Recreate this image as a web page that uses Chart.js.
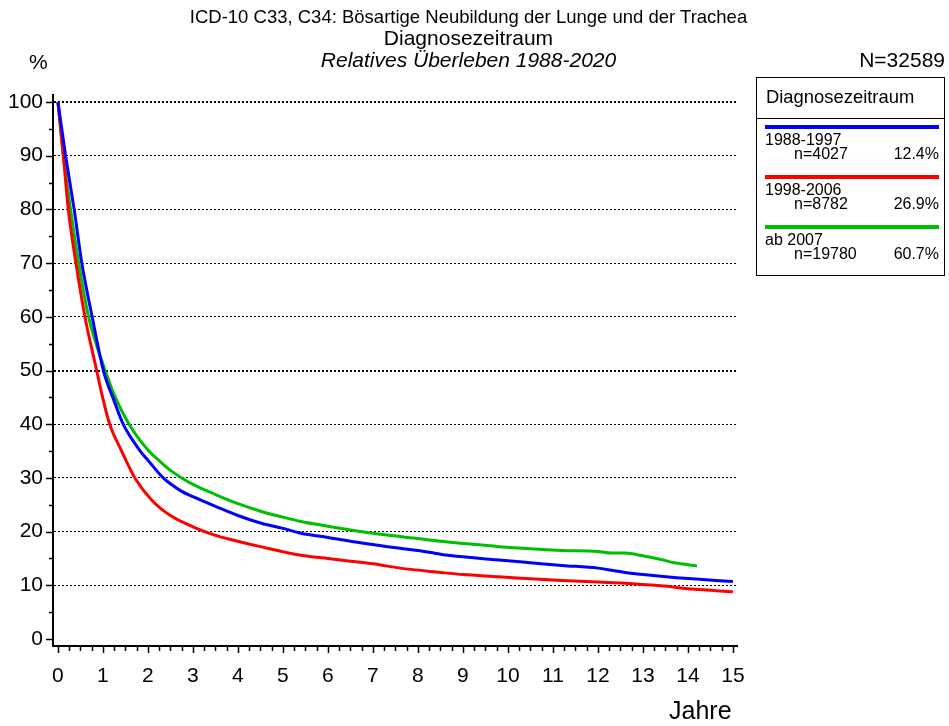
<!DOCTYPE html>
<html lang="de">
<head>
<meta charset="utf-8">
<title>Relatives Überleben 1988-2020</title>
<script src="https://cdn.jsdelivr.net/npm/chart.js@4/dist/chart.umd.min.js"></script>
<style>
  body { margin: 0; background: #fff; font-family: "Liberation Sans", Arial, sans-serif; }
  #wrap { position: relative; width: 949px; height: 726px; }
  #wrap canvas { position: absolute; left: 0; top: 0; }
  .t { position: absolute; white-space: nowrap; color: #000; }
  #legend { position: absolute; left: 756px; top: 77px; width: 187px; height: 197px; border: 1.5px solid #000; }
  #legend .head { position: absolute; left: 9px; top: 8px; font-size: 18.4px; }
  #legend .sep { position: absolute; left: 0; right: 0; top: 40px; border-top: 1px solid #000; }
  .entry { position: absolute; left: 8px; width: 174px; height: 50px; font-size: 16px; }
  .entry .bar { position: absolute; left: 0; right: 0; top: 0; height: 4px; }
  .entry .a { position: absolute; left: 0; top: 6px; }
  .entry .b { position: absolute; left: 29px; top: 20px; }
  .entry .c { position: absolute; right: 0; top: 20px; }
</style>
</head>
<body>
<div id="wrap">
  <canvas id="survChart" width="949" height="726"></canvas>
  <div class="t" style="left:0;width:937px;text-align:center;top:6px;font-size:18.5px;">ICD-10 C33, C34: Bösartige Neubildung der Lunge und der Trachea</div>
  <div class="t" style="left:0;width:937px;text-align:center;top:26px;font-size:21px;">Diagnosezeitraum</div>
  <div class="t" style="left:0;width:937px;text-align:center;top:48px;font-size:21px;font-style:italic;">Relatives Überleben 1988-2020</div>
  <div class="t" style="left:29px;top:50px;font-size:21px;">%</div>
  <div class="t" style="right:4px;top:48px;font-size:21px;">N=32589</div>
  <div class="t" style="left:669px;top:696px;font-size:25px;">Jahre</div>
  <div id="legend">
    <div class="head">Diagnosezeitraum</div>
    <div class="sep"></div>
  </div>
</div>
<script>
// Diagnosezeitraum groups
const groupLabels = ['1988-1997', '1998-2006', 'ab 2007'];
const groupN = ['n=4027', 'n=8782', 'n=19780'];
const groupShare = ['12.4%', '26.9%', '60.7%'];
const groupColors = ['#0000ff', '#ff0000', '#00bf00'];

// Relatives Überleben (%) over Jahre
const yearsA = [0, 0.17, 0.36, 0.53, 0.76, 1.01, 1.25, 1.45, 1.82, 2.0, 2.34, 2.5, 2.75, 3.0, 3.5, 4.0, 4.5, 5.0, 5.4, 6.0, 6.5, 7.0, 7.6, 8.0, 8.5, 9.0, 9.8, 10.5, 11.2, 12.0, 12.3, 12.6, 13.4, 14.1, 15.0];
const survA  = [100, 90, 80, 70, 60, 50, 44.3, 40, 35.1, 33.3, 30, 28.9, 27.5, 26.5, 24.7, 23, 21.6, 20.6, 19.7, 18.9, 18.2, 17.6, 16.9, 16.5, 15.8, 15.3, 14.7, 14.2, 13.7, 13.2, 12.8, 12.4, 11.7, 11.2, 10.7];

const yearsB = [0, 0.12, 0.23, 0.40, 0.60, 0.86, 0.97, 1.15, 1.41, 1.71, 2.08, 2.5, 3.0, 3.5, 3.9, 4.5, 5.4, 6.0, 6.5, 7.0, 7.6, 8.5, 9.0, 9.8, 10.5, 11.2, 12.0, 12.6, 13.4, 14.1, 15.0];
const survB  = [100, 90, 80, 70, 60, 50, 45.8, 40, 35.1, 30, 25.9, 23, 20.9, 19.3, 18.4, 17.2, 15.6, 15.0, 14.5, 14.0, 13.2, 12.4, 12.0, 11.6, 11.2, 10.9, 10.6, 10.4, 9.9, 9.3, 8.8];

const yearsC = [0, 0.12, 0.28, 0.46, 0.68, 1.05, 1.25, 1.58, 2.01, 2.25, 2.5, 2.75, 3.0, 3.5, 4.0, 4.5, 5.0, 5.4, 6.0, 6.5, 7.0, 7.6, 8.5, 9.0, 9.8, 10.5, 11.2, 12.0, 12.3, 12.6, 13.0, 13.4, 13.7, 14.2];
const survC  = [100, 90, 80, 70, 60, 50, 45.5, 40, 35.1, 33.2, 31.4, 30, 28.8, 26.9, 25.2, 23.8, 22.7, 21.9, 21.0, 20.3, 19.7, 19.1, 18.2, 17.8, 17.2, 16.8, 16.5, 16.3, 16.0, 16.0, 15.5, 14.8, 14.2, 13.6];

const seriesYears = [yearsA, yearsB, yearsC];
const seriesSurv = [survA, survB, survC];

// legend entries
const legendEl = document.getElementById('legend');
groupLabels.forEach((lbl, i) => {
    const e = document.createElement('div');
    e.className = 'entry';
    e.style.top = (47 + i * 50) + 'px';
    e.innerHTML = `<div class="bar" style="background:${groupColors[i]}"></div>` +
        `<div class="a">${lbl}</div><div class="b">${groupN[i]}</div><div class="c">${groupShare[i]}</div>`;
    legendEl.appendChild(e);
});

// small outward tick marks: minor + major
const tickMarks = {
    id: 'tickMarks',
    afterDraw(chart) {
        const { ctx, scales: { x, y } } = chart;
        ctx.save();
        ctx.strokeStyle = '#000';
        ctx.lineWidth = 1.5;
        ctx.beginPath();
        for (let i = 0; i <= 60; i++) {
            const px = Math.round(x.getPixelForValue(i / 4)) + 0.5;
            ctx.moveTo(px, y.bottom);
            ctx.lineTo(px, y.bottom + (i % 4 === 0 ? 7 : 5));
        }
        for (let i = 0; i <= 20; i++) {
            const py = Math.round(y.getPixelForValue(i * 5)) + 0.5;
            ctx.moveTo(x.left, py);
            ctx.lineTo(x.left - (i % 2 === 0 ? 7 : 4), py);
        }
        ctx.stroke();
        ctx.restore();
    }
};

new Chart(document.getElementById('survChart'), {
    type: 'line',
    data: {
        datasets: groupLabels.map((lbl, i) => ({
            label: lbl,
            data: seriesYears[i].map((t, j) => ({ x: t, y: seriesSurv[i][j] })),
            borderColor: groupColors[i],
            borderWidth: 3,
            pointRadius: 0,
            cubicInterpolationMode: 'monotone',
            fill: false
        }))
    },
    options: {
        responsive: false,
        animation: false,
        layout: { padding: { top: 95, right: 212, left: 0, bottom: 0 } },
        plugins: { legend: { display: false }, tooltip: { enabled: false } },
        scales: {
            x: {
                type: 'linear',
                min: -0.11, max: 15.09,
                afterFit: (s) => { s.height = 80; },
                afterBuildTicks: (s) => { s.ticks = Array.from({ length: 16 }, (_, i) => ({ value: i })); },
                grid: { display: false, drawTicks: false },
                border: { display: true, color: '#000', width: 2 },
                ticks: { color: '#000', padding: 18, font: { family: 'Liberation Sans, Arial', size: 21 } }
            },
            y: {
                min: -1.3, max: 101.3,
                afterFit: (s) => { s.width = 53; },
                afterBuildTicks: (s) => { s.ticks = Array.from({ length: 11 }, (_, i) => ({ value: i * 10 })); },
                grid: {
                    drawTicks: false,
                    color: (c) => c.tick && c.tick.value === 0 ? 'rgba(0,0,0,0)' : '#000',
                    lineWidth: (c) => c.tick && (c.tick.value === 50 || c.tick.value === 100) ? 2 : 1
                },
                border: { display: true, color: '#000', width: 2, dash: [2, 2] },
                ticks: { color: '#000', padding: 10, font: { family: 'Liberation Sans, Arial', size: 21 } }
            }
        }
    },
    plugins: [tickMarks]
});
</script>
</body>
</html>
